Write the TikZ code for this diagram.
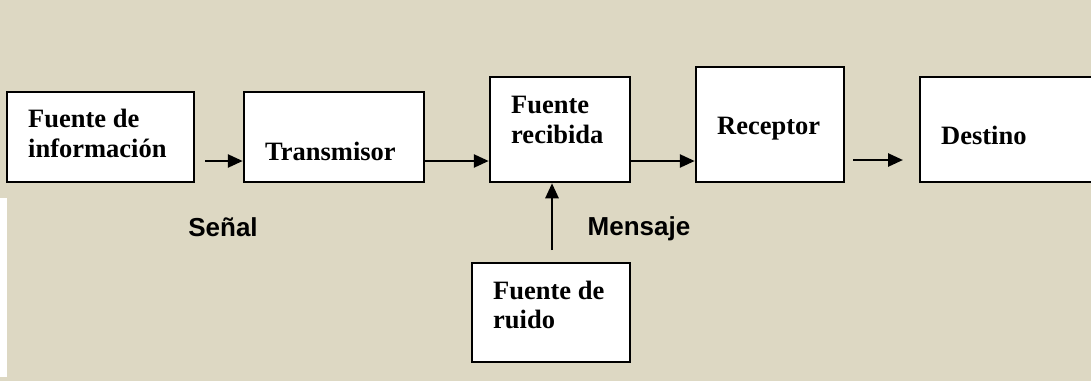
\documentclass[tikz,border=0pt]{standalone}
\usepackage{fontspec}
\setmainfont{Liberation Serif}
\setsansfont{Liberation Sans}
\usetikzlibrary{arrows.meta}
\definecolor{bg}{RGB}{221,216,195}
\tikzset{
  box/.style={draw=black, fill=white, line width=2.5pt, rectangle, inner sep=0pt},
  txt/.style={anchor=base west, inner sep=0pt, font=\fontsize{26.5}{30}\selectfont\bfseries},
  lbl/.style={anchor=base, inner sep=0pt, font=\sffamily\fontsize{26}{30}\selectfont\bfseries},
  conn/.style={line width=2.6pt, -{Triangle[length=15pt,width=13pt]}}
}
\begin{document}
\begin{tikzpicture}[x=1pt,y=-1pt]
\useasboundingbox (0,0) rectangle (1091,381);
\clip (0,0) rectangle (1091,381);
\fill[bg] (0,0) rectangle (1091,381);
\fill[white] (0,198) rectangle (7,377);
% boxes
\node[box, minimum width=187pt, minimum height=90pt] (src) at (100.5,137) {};
\node[box, minimum width=180pt, minimum height=90pt] (tx) at (334,137) {};
\node[box, minimum width=140pt, minimum height=105pt] (rcv) at (560,129.5) {};
\node[box, minimum width=148pt, minimum height=115pt] (rec) at (770,124.5) {};
\node[box, minimum width=200pt, minimum height=105pt] (dst) at (1020,129.5) {};
\node[box, minimum width=158pt, minimum height=99pt] (noise) at (551,312.5) {};
% texts
\node[txt] at (28,127) {Fuente de};
\node[txt] at (28,157) {información};
\node[txt] at (265,160) {Transmisor};
\node[txt] at (511,113) {Fuente};
\node[txt] at (511,143) {recibida};
\node[txt] at (717,134) {Receptor};
\node[txt] at (941,144) {Destino};
\node[txt] at (493,299) {Fuente de};
\node[txt] at (493,328) {ruido};
\node[lbl] at (223,236) {Señal};
\node[lbl] at (639,235) {Mensaje};
% connectors
\coordinate (a1) at (205,161);
\coordinate (a4) at (853,160);
\coordinate (a4e) at (903,160);
\coordinate (a5) at (552,250);
\draw[conn] (a1) -- (a1 -| tx.west);
\draw[conn] (tx.east |- 0,161) -- (rcv.west |- 0,161);
\draw[conn] (rcv.east |- 0,161) -- (rec.west |- 0,161);
\draw[conn] (a4) -- (a4e);
\draw[conn] (a5) -- (a5 |- rcv.south);
\end{tikzpicture}
\end{document}
